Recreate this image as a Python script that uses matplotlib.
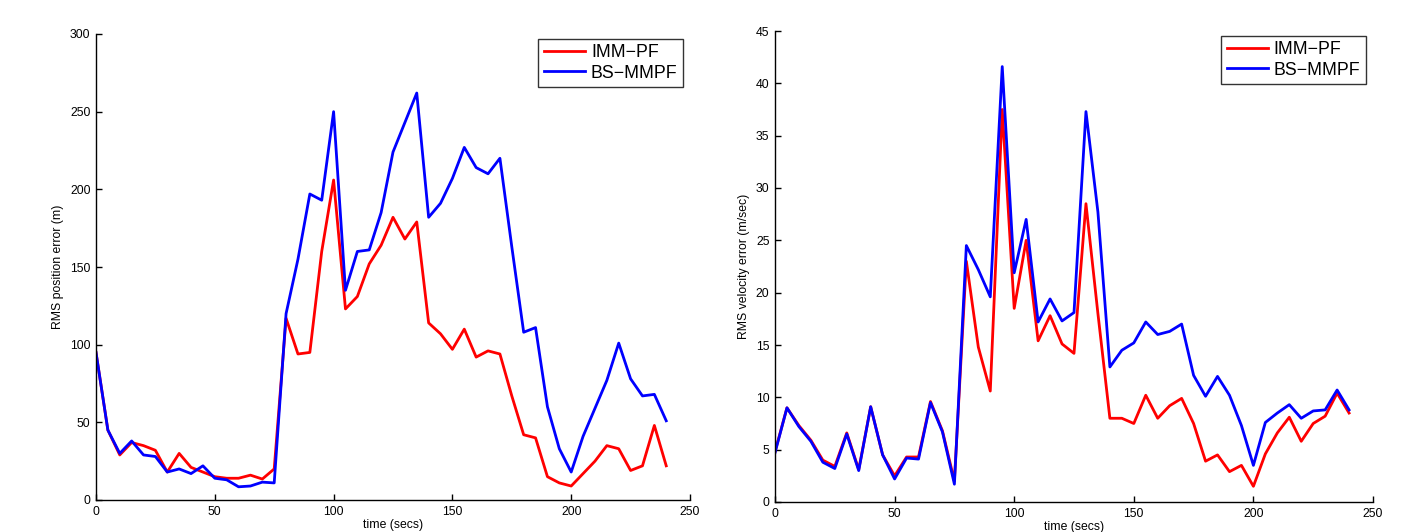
import matplotlib
matplotlib.use("Agg")
import matplotlib.pyplot as plt

plt.rcParams['font.family'] = ['Liberation Sans', 'DejaVu Sans']

time = list(range(0, 245, 5))

pos_imm = [95, 45, 29, 37, 35, 32, 18, 30, 21, 18, 15, 14, 14, 16, 13.5, 20,
           117, 94, 95, 160, 206, 123, 131, 152, 164, 182, 168, 179, 114, 107,
           97, 110, 92, 96, 94, 67, 42, 40, 15, 11, 9, 17, 25, 35, 33, 19, 22, 48, 22]
pos_bs = [95, 45, 30, 38, 29, 28, 18, 20, 17, 22, 14, 13, 8.5, 9, 11.5, 11,
          120, 155, 197, 193, 250, 135, 160, 161, 185, 224, 243, 262, 182, 191,
          207, 227, 214, 210, 220, 163, 108, 111, 60, 33, 18, 41, 59, 77, 101, 78, 67, 68, 51]

vel_imm = [4.8, 9.0, 7.3, 5.9, 4.0, 3.4, 6.6, 3.1, 9.1, 4.5, 2.5, 4.3, 4.3, 9.6, 6.8, 2.0,
           23.0, 14.8, 10.6, 37.5, 18.5, 25.0, 15.4, 17.8, 15.1, 14.2, 28.5, 18.0, 8.0, 8.0,
           7.5, 10.2, 8.0, 9.2, 9.9, 7.5, 3.9, 4.5, 2.9, 3.5, 1.5, 4.6, 6.6, 8.1, 5.8, 7.5,
           8.2, 10.4, 8.5]
vel_bs = [4.7, 9.0, 7.2, 5.8, 3.8, 3.2, 6.5, 3.0, 9.1, 4.5, 2.2, 4.2, 4.1, 9.5, 6.7, 1.7,
          24.5, 22.2, 19.6, 41.6, 21.9, 27.0, 17.2, 19.4, 17.3, 18.1, 37.3, 27.7, 12.9, 14.5,
          15.2, 17.2, 16.0, 16.3, 17.0, 12.1, 10.1, 12.0, 10.2, 7.3, 3.5, 7.6, 8.5, 9.3, 8.0,
          8.7, 8.8, 10.7, 8.8]

labels = ["IMM\u2212PF", "BS\u2212MMPF"]

fig = plt.figure(figsize=(14.07, 5.32), dpi=100)
ax1 = fig.add_axes([96/1407, 1-500/532, (690-96)/1407, (500-34)/532])
ax2 = fig.add_axes([775/1407, 1-502/532, (1373-775)/1407, (502-31)/532])

def style(ax, ymax, yticks):
    ax.set_xlim(0, 250)
    ax.set_ylim(0, ymax)
    ax.set_xticks([0, 50, 100, 150, 200, 250])
    ax.set_yticks(yticks)
    ax.spines['top'].set_visible(False)
    ax.spines['right'].set_visible(False)
    for s in ['left', 'bottom']:
        ax.spines[s].set_linewidth(1.0)
    ax.tick_params(direction='in', length=4, width=1, labelsize=8.8, pad=4)
    ax.set_xlabel("time (secs)", fontsize=8.8, labelpad=1)

ax1.plot(time, pos_imm, color='#ff0000', lw=2.0, label=labels[0])
ax1.plot(time, pos_bs, color='#0000ff', lw=2.0, label=labels[1])
style(ax1, 300, range(0, 301, 50))
ax1.set_ylabel("RMS position error (m)", fontsize=8.8)

ax2.plot(time, vel_imm, color='#ff0000', lw=2.0, label=labels[0])
ax2.plot(time, vel_bs, color='#0000ff', lw=2.0, label=labels[1])
style(ax2, 45, range(0, 46, 5))
ax2.set_ylabel("RMS velocity error (m/sec)", fontsize=8.8)

for ax in (ax1, ax2):
    leg = ax.legend(loc='upper right', bbox_to_anchor=(0.988, 0.99), fontsize=12.8,
                    frameon=True, fancybox=False, handlelength=2.3,
                    borderpad=0.3, labelspacing=0.2, handletextpad=0.35, borderaxespad=0.0)
    leg.get_frame().set_edgecolor('black')
    leg.get_frame().set_linewidth(1.0)

fig.savefig("out.png", dpi=100)
